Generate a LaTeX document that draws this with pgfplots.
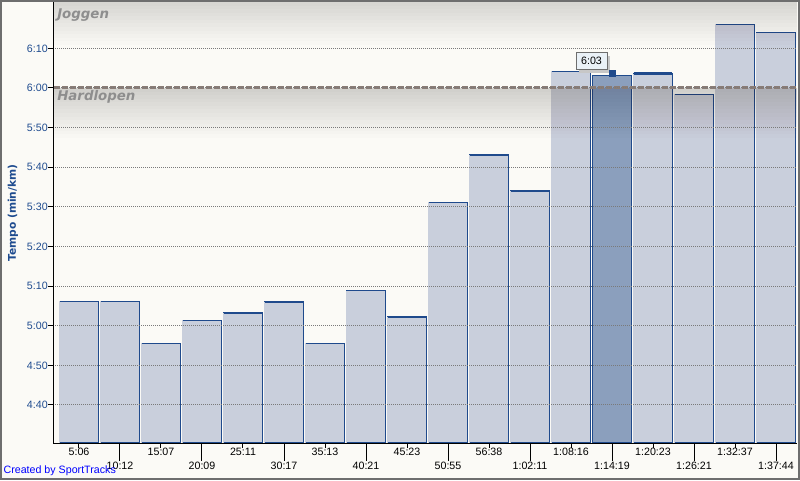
\documentclass[border=0pt]{standalone}
\usepackage{pgfplots}
\pgfplotsset{compat=1.18}
\usepackage{pgfplotstable}
\usepackage{fontspec}
\setmainfont{Liberation Sans}
\newfontfamily\dvs{DejaVu Sans}[BoldFont={DejaVu Sans Bold},BoldItalicFont={DejaVu Sans Bold Oblique}]

\definecolor{bgc}{HTML}{FBFAF6}
\definecolor{barfill}{HTML}{C9CFDC}
\definecolor{barblue}{HTML}{1F4A8C}
\definecolor{barsel}{HTML}{8B9FBD}
\definecolor{tickblue}{HTML}{1E4B8F}
\definecolor{dashc}{HTML}{8A7C76}
\definecolor{gridc}{HTML}{7A7A7A}
\definecolor{bandtxt}{HTML}{8E8E8E}
\definecolor{framec}{HTML}{6E6E6E}
\definecolor{tipfill}{HTML}{EAF1F7}
\definecolor{bandc}{HTML}{201810}

% lap number, pace in seconds per km
\pgfplotstableread{
n t
1 306.2
2 306.2
3 295.6
4 301.4
5 303.2
6 306.0
7 295.6
8 308.8
9 302.2
10 331.2
11 343.1
12 334.0
13 364.2
14 363.2
15 363.6
16 358.4
17 376.1
18 374.0
}\pace

\begin{document}
\begin{tikzpicture}
\useasboundingbox (0,0) rectangle (600pt,360pt);
\fill[bgc] (0,0) rectangle (600pt,360pt);
\begin{axis}[
  at={(39.75pt,27.75pt)}, anchor=south west,
  scale only axis, width=558pt, height=330.75pt,
  xmin=0.366, xmax=18.512, ymin=270.4, ymax=381.7,
  axis x line*=bottom, axis y line*=left,
  axis line style={black, line width=0.75pt, -},
  axis on top,
  tick align=outside, major tick length=3.75pt,
  tick style={black, line width=0.75pt},
  ytick={280,290,...,370},
  yticklabels={4:40,4:50,5:00,5:10,5:20,5:30,5:40,5:50,6:00,6:10},
  yticklabel style={anchor=east, inner sep=0pt, text=tickblue, font=\fontsize{8}{9.6}\selectfont},
  ymajorgrids,
  grid style={gridc, line width=0.75pt, dash pattern=on 0.75pt off 0.75pt},
  xtick={1,3,...,17},
  xticklabels={5:06,15:07,25:11,35:13,45:23,56:38,1:08:16,1:20:23,1:32:37},
  xticklabel style={anchor=north, inner sep=0pt, font=\fontsize{8}{9.6}\selectfont},
  extra x ticks={2,4,...,18},
  extra x tick labels={10:12,20:09,30:17,40:21,50:55,1:02:11,1:14:19,1:26:21,1:37:44},
  extra x tick style={major tick length=13.5pt, xticklabel style={yshift=-0.75pt}},
  ylabel={Tempo (min/km)},
  every axis y label/.style={at={(axis description cs:-0.0538,0.5215)}, rotate=90, anchor=center,
    font=\dvs\bfseries\fontsize{8}{9.6}\selectfont, text=tickblue},
]
\addplot[ybar, bar width=0.95, bar shift=0pt, fill=barfill, draw=barblue, line width=0.85pt] table[x=n, y=t] {\pace};
\addplot[ycomb, draw=barfill, line width=1.4pt, mark=none] table[x expr=\thisrow{n}-0.475, y=t] {\pace};
\addplot[ybar, bar width=0.95, bar shift=0pt, fill=barsel, draw=barblue, line width=0.85pt] coordinates {(14,363.2)};
\addplot[barblue, line width=1.2pt] coordinates {(14.475,270) (14.475,363.2)};

% shaded zone bands
\pgfplotsinvokeforeach{1,...,12}{
  \fill[bandc, fill opacity=0.0125] (axis cs:0,381.7) rectangle (axis cs:20,{381.7-#1*0.9});
}
\pgfplotsinvokeforeach{1,...,14}{
  \fill[bandc, fill opacity=0.0115] (axis cs:0,360) rectangle (axis cs:20,{360-#1*0.9});
}

\addplot[dashc, line width=2.25pt, dash pattern=on 4.5pt off 1.5pt] coordinates {(0,360) (20,360)};
\addplot[barblue, line width=2.4pt] coordinates {(14.525,363.7) (15.475,363.7)};
\addplot[only marks, mark=square*, mark size=2.25pt, barblue] coordinates {(14,363.6)};

\node[anchor=base west, inner sep=0pt, text=bandtxt, font=\dvs\bfseries\itshape\fontsize{10}{12}\selectfont] at (axis cs:0.464,377.5) {Joggen};
\node[anchor=base west, inner sep=0pt, text=bandtxt, font=\dvs\bfseries\itshape\fontsize{10}{12}\selectfont] at (axis cs:0.464,356.95) {Hardlopen};

\node[fill=black!22, minimum width=23.25pt, minimum height=12.75pt, inner sep=0pt, xshift=2.25pt, yshift=-2.25pt] at (axis cs:13.5,366.8) {};
\node[draw=framec, line width=0.75pt, fill=tipfill, minimum width=23.25pt, minimum height=12.75pt, inner sep=0pt, font=\fontsize{8}{9.6}\selectfont] at (axis cs:13.5,366.8) {6:03};
\end{axis}
\node[anchor=west, inner sep=0pt, text=blue, font=\fontsize{8}{9.6}\selectfont] at (2.5pt,6.75pt) {Created by SportTracks};
\draw[framec, line width=1.5pt] (0.75pt,0.75pt) rectangle (599.25pt,359.25pt);
\end{tikzpicture}
\end{document}
